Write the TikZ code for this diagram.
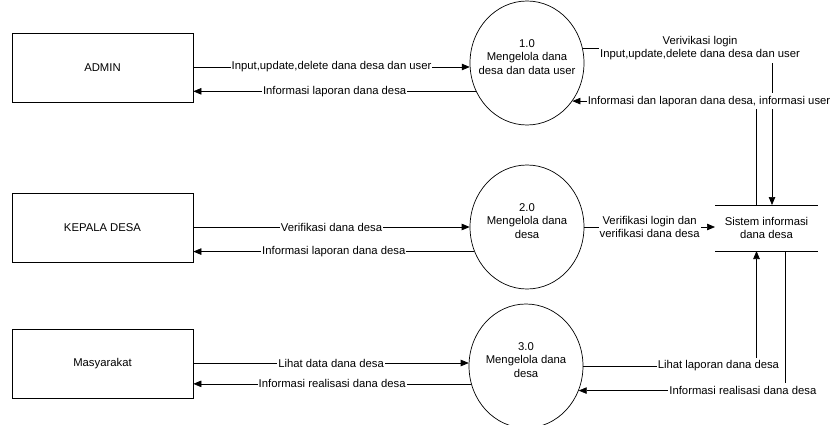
\documentclass[tikz,border=0pt]{standalone}
\usepackage{fontspec}
\setmainfont{Liberation Sans}
\usetikzlibrary{arrows.meta,calc,shapes.geometric}
\begin{document}
\begin{tikzpicture}[x=1pt,y=-1pt,
  line width=0.7pt,
  every node/.style={font=\fontsize{11.3}{13.5}\selectfont},
  ent/.style={draw, rectangle, minimum width=181pt, minimum height=69pt, inner sep=0pt},
  proc/.style={draw, ellipse, minimum width=114pt, minimum height=124pt, inner sep=0pt},
  proctext/.style={align=center, inner sep=0pt},
  lbl/.style={fill=white, inner xsep=1pt, inner ysep=3pt, align=center},
  flow/.style={-{Triangle[length=8pt,width=6.5pt]}}]

\fill[white] (0,0) rectangle (832,425);
\useasboundingbox (0,0) rectangle (832,425);

% external entities
\node[ent] (admin) at (102.5,67.5) {ADMIN};
\node[ent] (kades) at (102.5,227.5) {KEPALA DESA};
\node[ent] (masy)  at (102.5,364) {Masyarakat};

% processes
\node[proc] (c1) at (527,63) {};
\node[proc] (c2) at (527,227) {};
\node[proc] (c3) at (526,366) {};
\node[proctext] (t1) at ([yshift=6pt]c1.center) {1.0\\Mengelola dana\\desa dan data user};
\node[proctext] (t2) at ([yshift=6pt]c2.center) {2.0\\Mengelola dana\\desa};
\node[proctext] (t3) at ([yshift=6pt]c3.center) {3.0\\Mengelola dana\\desa};

% data store
\node[minimum width=103pt, minimum height=46pt, inner sep=0pt, outer sep=0pt, align=center]
  (store) at (766.5,228) {Sistem informasi\\dana desa};
\draw (store.north west) -- (store.north east);
\draw (store.south west) -- (store.south east);
\coordinate (s1) at ([xshift=5.5pt]store.north);
\coordinate (s2) at ([xshift=-10pt]store.north);
\coordinate (s3) at ([xshift=-10pt]store.south);
\coordinate (s4) at ([xshift=19pt]store.south);

% entity <-> process flows
\draw[flow] (admin.east |- c1.184) -- (c1.184)
  node[lbl, midway] {Input,update,delete dana desa dan user};
\draw[flow] (c1.209) -- (c1.209 -| admin.east)
  node[lbl, midway] {Informasi laporan dana desa};
\draw[flow] (kades.east |- c2.west) -- (c2.west)
  node[lbl, midway] {Verifikasi dana desa};
\draw[flow] (c2.205) -- (c2.205 -| kades.east)
  node[lbl, midway] {Informasi laporan dana desa};
\draw[flow] (masy.east |- c3.177) -- (c3.177)
  node[lbl, midway] {Lihat data dana desa};
\draw[flow] (c3.198) -- (c3.198 -| masy.east)
  node[lbl, midway] {Informasi realisasi dana desa};

% process <-> store flows
\draw[flow] (c1.15) -| (s1)
  node[lbl, pos=0.31] {Verivikasi login\\Input,update,delete dana desa dan user};
\draw[flow] (s2) |- (c1.320)
  node[lbl, pos=0.629] {Informasi dan laporan dana desa, informasi user};
\draw[flow] (c2.east) -- (c2.east -| store.west)
  node[lbl, midway] {Verifikasi login dan\\verifikasi dana desa};
\draw[flow] (c3.east) -| (s3)
  node[lbl, pos=0.39] {Lihat laporan dana desa};
\draw[flow] (s4) |- (c3.335)
  node[lbl, pos=0.603] {Informasi realisasi dana desa};
\end{tikzpicture}
\end{document}
